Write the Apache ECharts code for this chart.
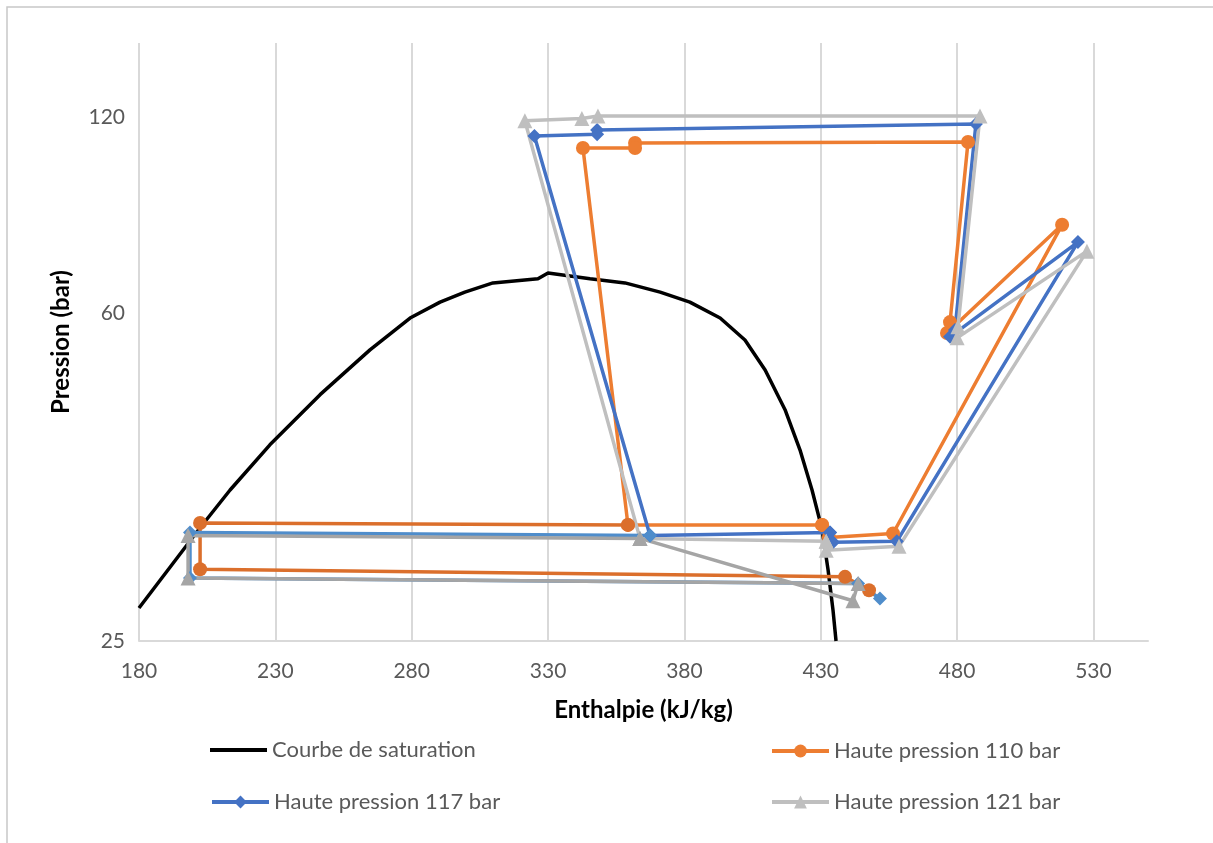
<!DOCTYPE html>
<html><head><meta charset="utf-8">
<script src="https://cdn.jsdelivr.net/npm/echarts@6/dist/echarts.min.js"></script>
<style>html,body{margin:0;padding:0;background:#fff}#c{width:1213px;height:843px}</style>
</head><body><div id="c"></div>
<script>
// ---- tick labels ----
const xTickValues = [180, 230, 280, 330, 380, 430, 480, 530];
const yTickValues = [25, 66.7, 120];
const yTickLabels = ['25', '60', '120'];

// ---- saturation curve (h kJ/kg, p bar) ----
const satH = [180.0, 202.4, 213.4, 228.0, 246.4, 264.7, 279.4, 290.4, 299.5, 309.8, 326.3, 330.0, 345.4, 358.2, 371.1, 382.0, 393.1, 402.2, 409.6, 416.9, 422.4, 426.8, 430.5, 432.7, 434.5, 435.6];
const satP = [27.6, 35.1, 39.3, 45.0, 52.3, 59.8, 65.8, 69.0, 71.1, 73.1, 74.0, 75.3, 74.0, 73.1, 71.1, 69.0, 65.8, 61.6, 56.3, 50.0, 44.3, 39.3, 34.9, 30.9, 27.4, 25.0];

// ---- 110 bar cycle ----
const hp110H = [430.5, 433.0, 456.5, 518.5, 476.3, 477.4, 484.0, 361.9, 361.9, 342.8, 359.3, 430.5];
const hp110P = [35.4, 34.1, 34.5, 87.0, 62.9, 65.0, 111.5, 111.2, 109.5, 109.5, 35.4, 35.4];
const lp110H = [359.3, 202.4, 202.4, 438.9, 447.7];
const lp110P = [35.4, 35.6, 31.0, 30.3, 29.1];

// ---- 117 bar cycle ----
const hp117H = [433.4, 434.5, 457.9, 524.3, 477.4, 479.2, 486.9, 348.0, 348.0, 325.0, 367.4, 433.4];
const hp117P = [34.6, 33.6, 33.7, 82.6, 62.2, 63.5, 117.7, 115.6, 114.1, 113.5, 34.3, 34.6];
const lp117H = [367.4, 198.7, 198.7, 443.7, 451.7];
const lp117P = [34.3, 34.6, 30.2, 29.7, 28.4];

// ---- 121 bar cycle ----
const hp121H = [432.0, 432.0, 458.7, 527.6, 480.0, 480.3, 488.4, 348.3, 342.4, 321.5, 363.7, 432.0];
const hp121P = [33.7, 32.8, 33.2, 80.4, 62.0, 64.1, 120.5, 120.5, 119.6, 118.8, 34.0, 33.7];
const lp121H = [363.7, 198.0, 198.0, 443.7, 441.8, 363.7];
const lp121P = [34.0, 34.3, 30.2, 29.7, 28.2, 34.0];

const zip = (a, b) => a.map((v, i) => [v, b[i]]);
const FONT = 'Lato';

const chart = echarts.init(document.getElementById('c'), null, {renderer: 'canvas'});

function cyc(name, h, p, color, symbol, size) {
  return {
    name: name, type: 'line', data: zip(h, p),
    symbol: symbol, symbolSize: size, showSymbol: true,
    lineStyle: {color: color, width: 3.5}, itemStyle: {color: color, borderWidth: 0},
    emphasis: {disabled: true}, z: 3
  };
}

const legendBase = {
  orient: 'horizontal', itemWidth: 57, itemHeight: 16, itemGap: 0, padding: 0,
  textStyle: {fontFamily: FONT, fontSize: 22, color: '#595959'},
  lineStyle: {width: 4},
  selectedMode: false
};

chart.setOption({
  animation: false,
  backgroundColor: '#fff',
  grid: {left: 139, right: 65, top: 43, bottom: 202, containLabel: false, outerBoundsMode: 'none'},
  xAxis: {
    type: 'value', min: 180, max: 550,
    name: 'Enthalpie (kJ/kg)', nameLocation: 'middle', nameGap: 57,
    nameTextStyle: {fontFamily: FONT, fontSize: 24, fontWeight: 'bold', color: '#000'},
    axisLine: {show: true, lineStyle: {color: '#D9D9D9', width: 2}},
    axisTick: {show: false, customValues: xTickValues},
    axisLabel: {customValues: xTickValues, fontFamily: FONT, fontSize: 21, color: '#595959', margin: 20},
    splitLine: {show: true, lineStyle: {color: '#D9D9D9', width: 2}}
  },
  yAxis: {
    type: 'log', min: 25, max: 150, logBase: 10,
    name: 'Pression (bar)', nameLocation: 'middle', nameGap: 66, nameRotate: 90,
    nameTextStyle: {fontFamily: FONT, fontSize: 24, fontWeight: 'bold', color: '#000'},
    axisLine: {show: false}, axisTick: {show: false, customValues: yTickValues},
    splitLine: {show: false},
    axisLabel: {
      customValues: yTickValues, fontFamily: FONT, fontSize: 21, color: '#595959', margin: 14,
      formatter: v => { const i = yTickValues.findIndex(t => Math.abs(t - v) < 0.01); return i >= 0 ? yTickLabels[i] : ''; }
    }
  },
  legend: [
    Object.assign({}, legendBase, {left: 210, top: 739, itemHeight: 4, data: [{name: 'Courbe de saturation', icon: 'rect'}]}),
    Object.assign({}, legendBase, {left: 770, top: 740, data: ['Haute pression 110 bar']}),
    Object.assign({}, legendBase, {left: 210, top: 791, data: ['Haute pression 117 bar']}),
    Object.assign({}, legendBase, {left: 770, top: 791, data: ['Haute pression 121 bar']})
  ],
  graphic: [{
    type: 'rect', shape: {x: 7, y: 7, width: 1230, height: 860},
    style: {fill: 'none', stroke: '#C8C8C8', lineWidth: 1.5}, silent: true, z: -10
  }],
  series: [
    {
      name: 'Courbe de saturation', type: 'line', data: zip(satH, satP),
      symbol: 'none', lineStyle: {color: '#000', width: 3.5}, itemStyle: {color: '#000'},
      emphasis: {disabled: true}, z: 2
    },
    cyc('Haute pression 110 bar', hp110H, hp110P, '#ED7D31', 'circle', 14),
    cyc('Haute pression 117 bar', hp117H, hp117P, '#4472C4', 'diamond', 14),
    cyc('Haute pression 121 bar', hp121H, hp121P, '#BFBFBF', 'triangle', 15),
    cyc('BP 110 bar', lp110H, lp110P, '#DB6F2C', 'circle', 14),
    cyc('BP 117 bar', lp117H, lp117P, '#4F8DCB', 'diamond', 14),
    cyc('BP 121 bar', lp121H, lp121P, '#A5A5A5', 'triangle', 15)
  ]
});
</script>
</body></html>
